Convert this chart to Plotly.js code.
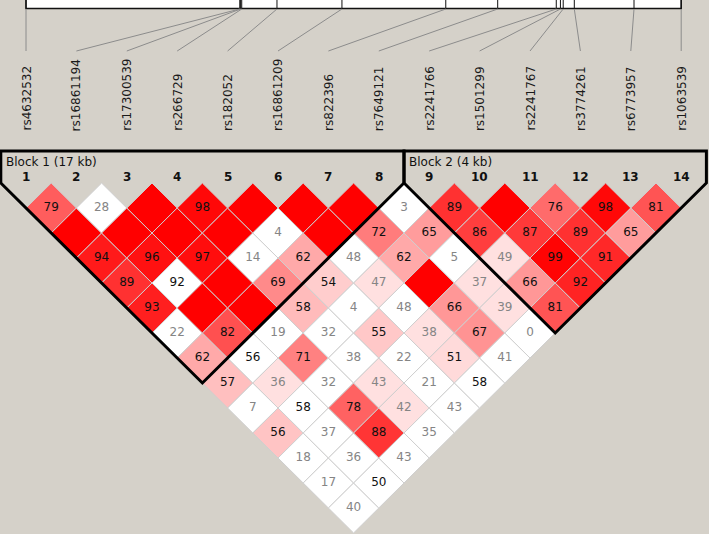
<!DOCTYPE html>
<html>
<head>
<meta charset="utf-8">
<script src="https://cdn.plot.ly/plotly-3.0.1.min.js"></script>
<style>
  html, body { margin: 0; padding: 0; background: #d5d1c9; }
  #ld { width: 709px; height: 534px; }
</style>
</head>
<body>
<div id="ld"></div>
<script>
// markers, in map order
const snpIds = ['rs4632532', 'rs16861194', 'rs17300539', 'rs266729', 'rs182052', 'rs16861209', 'rs822396',
                'rs7649121', 'rs2241766', 'rs1501299', 'rs2241767', 'rs3774261', 'rs6773957', 'rs1063539'];

// physical position along the map bar (kb from first marker)
const mapKb = [0, 7.70, 7.73, 7.77, 9.04, 11.38, 15.12, 16.99, 19.10, 19.25, 19.35, 19.75, 21.90, 23.60];

// haplotype blocks (marker numbers, 1-based)
const blockStart = [1, 9];
const blockEnd = [8, 14];
const blockLabels = ['Block 1 (17 kb)', 'Block 2 (4 kb)'];

// D' x 100 for marker i against markers i+1 .. 14 (100 = complete LD, no number shown)
const dprimeRows = [
    [79, 100, 94, 89, 93, 22, 62, 57, 7, 56, 18, 17, 40],
    [28, 100, 96, 92, 100, 82, 56, 36, 58, 37, 36, 50],
    [100, 100, 97, 100, 100, 19, 71, 32, 78, 88, 43],
    [98, 100, 14, 69, 58, 32, 38, 43, 42, 35],
    [100, 4, 62, 54, 4, 55, 22, 21, 43],
    [100, 100, 48, 47, 48, 38, 51, 58],
    [100, 72, 62, 100, 66, 67, 41],
    [3, 65, 5, 37, 39, 0],
    [89, 86, 49, 66, 81],
    [100, 87, 99, 92],
    [76, 89, 91],
    [98, 65],
    [81]
];

// LOD >= 2 flag, same layout as dprimeRows
const lodStrongRows = [
    [1, 1, 1, 1, 1, 0, 1, 1, 0, 1, 0, 0, 0],
    [0, 1, 1, 0, 1, 1, 0, 1, 0, 0, 0, 0],
    [1, 1, 1, 1, 1, 0, 1, 0, 1, 1, 0],
    [1, 1, 0, 1, 1, 0, 0, 1, 1, 0],
    [1, 0, 1, 1, 0, 1, 0, 0, 0],
    [1, 1, 0, 1, 0, 1, 1, 0],
    [1, 1, 1, 1, 1, 1, 0],
    [0, 1, 0, 1, 1, 0],
    [1, 1, 1, 1, 1],
    [1, 1, 1, 1],
    [1, 1, 1],
    [1, 1],
    [1]
];

// Haploview standard D'/LOD colouring
function cellColor(d, strong) {
    if (!strong) return d >= 100 ? 'rgb(192,192,240)' : '#ffffff';
    if (d < 50) return 'rgb(255,224,224)';
    const g = Math.floor(223 * 2 * (1 - d / 100));
    return 'rgb(255,' + g + ',' + g + ')';
}

// y axis: 25px per unit, 0 at top of the triangle
const yPx = py => (183 - py) / 25;
const nSnp = snpIds.length;
const kbMax = mapKb[nSnp - 1];
const mapX = kb => 1 + (nSnp - 1) * kb / kbMax;

const shapes = [];
const tx = [], ty = [], tt = [], tc = [];

dprimeRows.forEach((row, r) => {
    row.forEach((d, k) => {
        const a = r + 1, b = r + 2 + k;
        const cx = (a + b) / 2, cy = -(b - a);
        shapes.push({
            type: 'path', layer: 'below',
            path: `M ${cx},${cy + 1} L ${cx + 0.5},${cy} L ${cx},${cy - 1} L ${cx - 0.5},${cy} Z`,
            fillcolor: cellColor(d, lodStrongRows[r][k]),
            line: { color: '#cfcfcf', width: 1 }
        });
        tx.push(cx); ty.push(cy);
        tt.push(d >= 100 ? '' : String(d));
        tc.push(d >= 50 ? '#111111' : '#858585');
    });
});

// map bar with ticks and connector lines
shapes.push({
    type: 'rect', layer: 'below', x0: 1, x1: nSnp, y0: yPx(8.5), y1: yPx(-3),
    fillcolor: '#ffffff', line: { color: '#111', width: 1.5 }
});
mapKb.forEach((kb, i) => {
    shapes.push({
        type: 'line', layer: 'below', x0: mapX(kb), x1: mapX(kb), y0: yPx(-2), y1: yPx(8.5),
        line: { color: '#111', width: 1 }
    });
    shapes.push({
        type: 'line', layer: 'below', x0: mapX(kb), x1: i + 1, y0: yPx(9), y1: yPx(51),
        line: { color: '#8c8c8c', width: 1 }
    });
});

// block outlines
blockStart.forEach((a, n) => {
    const b = blockEnd[n];
    const top = yPx(151);
    shapes.push({
        type: 'path', layer: 'below',
        path: `M ${a - 0.5},${top} L ${b + 0.5},${top} L ${b + 0.5},0 L ${(a + b) / 2},${-(b - a + 1)} L ${a - 0.5},0 Z`,
        line: { color: '#000', width: 3 }
    });
});

const annotations = [];
snpIds.forEach((id, i) => {
    annotations.push({
        x: i + 1, y: yPx(133), text: id, showarrow: false, textangle: -90,
        xanchor: 'center', yanchor: 'bottom',
        font: { family: 'DejaVu Sans', size: 12, color: '#1a1a1a' }
    });
    annotations.push({
        x: i + 1, y: yPx(177), text: '<b>' + (i + 1) + '</b>', showarrow: false,
        xanchor: 'center', yanchor: 'middle',
        font: { family: 'DejaVu Sans', size: 12, color: '#111' }
    });
});
blockLabels.forEach((lab, n) => {
    annotations.push({
        x: blockStart[n] - 0.5, y: yPx(162), text: lab, showarrow: false,
        xanchor: 'left', yanchor: 'middle', xshift: 3,
        font: { family: 'DejaVu Sans', size: 12, color: '#111' }
    });
});

const cellText = {
    x: tx, y: ty, text: tt, type: 'scatter', mode: 'text',
    textposition: 'middle center',
    textfont: { family: 'DejaVu Sans', size: 12, color: tc },
    hoverinfo: 'skip'
};

const layout = {
    width: 709, height: 534,
    margin: { l: 0, r: 0, t: 0, b: 0 },
    paper_bgcolor: '#d5d1c9', plot_bgcolor: '#d5d1c9',
    xaxis: { range: [1 - 26 / 50.4, 1 + 683 / 50.4], visible: false, fixedrange: true },
    yaxis: { range: [yPx(534), yPx(0)], visible: false, fixedrange: true },
    showlegend: false,
    shapes: shapes,
    annotations: annotations
};

Plotly.newPlot('ld', [cellText], layout, { displayModeBar: false, staticPlot: true });
</script>
</body>
</html>
